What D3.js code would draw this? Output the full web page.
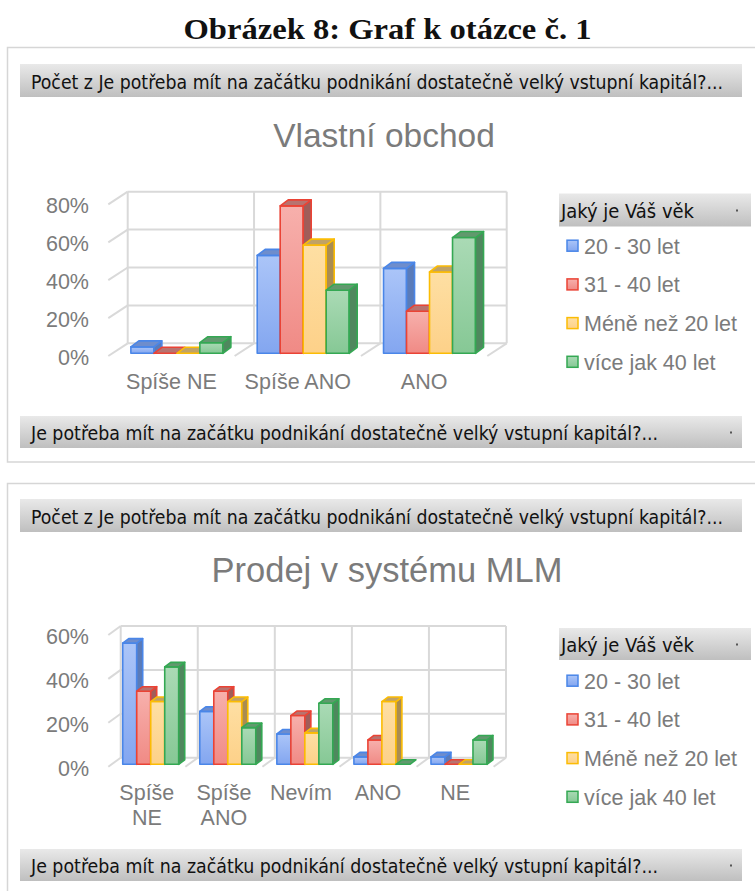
<!DOCTYPE html>
<html><head><meta charset="utf-8">
<script src="https://cdn.jsdelivr.net/npm/d3@7"></script>
<style>html,body{margin:0;padding:0;background:#fff;} svg{display:block;}</style>
</head><body><svg id="c" width="755" height="891"></svg>
<script>
// ---------- DATA ----------
const pageTitle = "Obrázek 8: Graf k otázce č. 1";
const filterText = "Počet z Je potřeba mít na začátku podnikání dostatečně velký vstupní kapitál?...";
const axisFilterText = "Je potřeba mít na začátku podnikání dostatečně velký vstupní kapitál?...";
const legendTitle = "Jaký je Váš věk";
const seriesNames = ["20 - 30 let", "31 - 40 let", "Méně než 20 let", "více jak 40 let"];

const title1 = "Vlastní obchod";
const categories1 = ["Spíše NE", "Spíše ANO", "ANO"];
const vo_20_30 = [0.034, 0.517, 0.448];
const vo_31_40 = [0.000, 0.778, 0.222];
const vo_mene20 = [0.000, 0.571, 0.429];
const vo_vice40 = [0.056, 0.333, 0.611];
const yTicks1 = [0, 0.2, 0.4, 0.6, 0.8];

const title2 = "Prodej v systému MLM";
const categories2 = ["Spíše NE", "Spíše ANO", "Nevím", "ANO", "NE"];
const mlm_20_30 = [0.552, 0.241, 0.138, 0.034, 0.034];
const mlm_31_40 = [0.333, 0.333, 0.222, 0.111, 0.000];
const mlm_mene20 = [0.286, 0.286, 0.143, 0.286, 0.000];
const mlm_vice40 = [0.444, 0.167, 0.278, 0.000, 0.111];
const yTicks2 = [0, 0.2, 0.4, 0.6];

// ---------- STYLE ----------
const palette = [
  {stroke:"#4a86e8", top:"#abc5f8", bot:"#83a6f0", lid:"#6e8dcc", side:"#5a7bb9"},
  {stroke:"#ea4335", top:"#f7b0ac", bot:"#f08a85", lid:"#b8736f", side:"#a05d59"},
  {stroke:"#fbbc04", top:"#fedfa3", bot:"#fdd189", lid:"#c0a266", side:"#a98c52"},
  {stroke:"#34a853", top:"#aadab5", bot:"#86c895", lid:"#61996e", side:"#4f885e"}
];
const gridColor = "#d9d9d9";
const textGray = "#7b7b7b";
const sansFont = "'Liberation Sans', Arial, sans-serif";
const pivotFont = "'DejaVu Sans Condensed', 'DejaVu Sans', sans-serif";

const svg = d3.select("#c");
const defs = svg.append("defs");
const hg = defs.append("linearGradient").attr("id","hdr").attr("x1",0).attr("y1",0).attr("x2",0).attr("y2",1);
hg.append("stop").attr("offset","0%").attr("stop-color","#e9e9e9");
hg.append("stop").attr("offset","100%").attr("stop-color","#bfbfbf");
palette.forEach((p,i) => {
  const lg = defs.append("linearGradient").attr("id","bar"+i).attr("x1",0).attr("y1",0).attr("x2",0).attr("y2",1);
  lg.append("stop").attr("offset","0%").attr("stop-color",p.top);
  lg.append("stop").attr("offset","100%").attr("stop-color",p.bot);
});

// page title
svg.append("text").attr("x",387.5).attr("y",38.5).attr("text-anchor","middle")
  .attr("font-family","'Liberation Serif', 'DejaVu Serif', serif").attr("font-weight","bold")
  .attr("font-size",30).attr("textLength",408).attr("lengthAdjust","spacingAndGlyphs")
  .attr("fill","#111").text(pageTitle);

// panels
svg.append("rect").attr("x",7.5).attr("y",47.5).attr("width",780).attr("height",414.5)
  .attr("fill","#fff").attr("stroke","#d6d6d6").attr("stroke-width",1.5);
svg.append("rect").attr("x",7.5).attr("y",483.5).attr("width",780).attr("height",440)
  .attr("fill","#fff").attr("stroke","#d6d6d6").attr("stroke-width",1.5);

function headerBar(x, y, w, h, text, textW, dotX) {
  svg.append("rect").attr("x",x).attr("y",y).attr("width",w).attr("height",h).attr("fill","url(#hdr)");
  svg.append("text").attr("x",x+(text===legendTitle?2:11)).attr("y",y+h/2+1).attr("dominant-baseline","central")
    .attr("font-family",pivotFont).attr("font-size",19).attr("fill","#111")
    .attr("textLength",textW).attr("lengthAdjust","spacingAndGlyphs").text(text);
  if (dotX) svg.append("rect").attr("x",dotX-1).attr("y",y+h/2-0.5).attr("width",2).attr("height",2).attr("fill","#555");
}
headerBar(20, 64, 722, 33, filterText, 692, null);
headerBar(20, 416, 722, 32, axisFilterText, 627, 731);
headerBar(20, 499, 722, 33, filterText, 692, null);
headerBar(20, 849, 722, 32, axisFilterText, 627, 731);
headerBar(559, 193.5, 192, 33, legendTitle, 133, 737);
headerBar(559, 628, 192, 32, legendTitle, 133, 737);

function legend(y0, step) {
  seriesNames.forEach((s,i) => {
    const cy = y0 + i*step;
    svg.append("rect").attr("x",567).attr("y",cy-5.5).attr("width",11).attr("height",11)
      .attr("fill","url(#bar"+i+")").attr("stroke",palette[i].stroke).attr("stroke-width",1.5);
    svg.append("text").attr("x",584).attr("y",cy+1).attr("dominant-baseline","central")
      .attr("font-family",sansFont).attr("font-size",21.5).attr("fill",textGray).text(s);
  });
}
legend(245.7, 38.7);
legend(680.7, 38.7);

function drawChart(cfg, cats, data, ticks, title) {
  const g = svg.append("g");
  const y = d3.scaleLinear().domain([0, cfg.max]).range([cfg.yBase, cfg.yTop]);
  const x = d3.scaleBand().domain(cats).range([cfg.x0, cfg.x1]);
  const pad = (x.bandwidth() - cfg.barW*seriesNames.length)/2;
  const xs = d3.scaleBand().domain(seriesNames).range([pad, x.bandwidth()-pad]);
  const fmt = d3.format(".0%");

  g.append("text").attr("x",cfg.titleX).attr("y",cfg.titleY).attr("text-anchor","middle")
    .attr("font-family",sansFont).attr("font-size",cfg.titleSize).attr("fill",textGray).text(title);

  const grid = g.append("g").attr("stroke",gridColor).attr("stroke-width",2).attr("fill","none");
  ticks.forEach(t => {
    grid.append("line").attr("x1",cfg.x0).attr("x2",cfg.x1).attr("y1",y(t)).attr("y2",y(t));
    grid.append("line").attr("x1",cfg.x0).attr("y1",y(t)).attr("x2",cfg.x0+cfg.fdx).attr("y2",y(t)+cfg.fdy);
  });
  const bounds = cats.map(c => x(c)).concat([cfg.x1]);
  bounds.forEach((b,i) => {
    grid.append("line").attr("x1",b).attr("x2",b).attr("y1",y(0)).attr("y2",y(cfg.max));
    if (i>0) grid.append("line").attr("x1",b).attr("y1",y(0)).attr("x2",b+cfg.fdx).attr("y2",y(0)+cfg.fdy);
  });

  ticks.forEach(t => {
    g.append("text").attr("x",89).attr("y",y(t)+cfg.fdy+2).attr("text-anchor","end")
      .attr("dominant-baseline","central").attr("font-family",sansFont).attr("font-size",21.5)
      .attr("fill",textGray).text(fmt(t));
  });

  cats.forEach(c => {
    const lines = cfg.wrap ? c.split(" ") : [c];
    lines.forEach((ln,li) => {
      g.append("text").attr("x",x(c)+x.bandwidth()/2+cfg.fdx).attr("y",cfg.yBase+cfg.labelDy+li*25)
        .attr("text-anchor","middle").attr("dominant-baseline","central")
        .attr("font-family",sansFont).attr("font-size",21.5).attr("fill",textGray).text(ln);
    });
  });

  const bars = g.append("g").attr("stroke-width",1.6).attr("stroke-linejoin","round");
  cats.forEach((c,ci) => {
    seriesNames.forEach((s,si) => {
      const v = data[si][ci];
      const p = palette[si];
      const xl = x(c) + xs(s) + cfg.bfx, xr = xl + xs.bandwidth();
      const yb = y(0) + cfg.bfy, yt = y(v) + cfg.bfy;
      const dx = cfg.ddx, dy = cfg.ddy;
      if (yb - yt > 0.5) {
        bars.append("rect").attr("x",xl).attr("y",yt).attr("width",xr-xl).attr("height",yb-yt)
          .attr("fill","url(#bar"+si+")").attr("stroke",p.stroke);
        bars.append("path").attr("d",`M${xr},${yt}L${xr+dx},${yt+dy}L${xr+dx},${yb+dy}L${xr},${yb}Z`)
          .attr("fill",p.side).attr("stroke",p.stroke);
      }
      bars.append("path").attr("d",`M${xl},${yt}L${xr},${yt}L${xr+dx},${yt+dy}L${xl+dx},${yt+dy}Z`)
        .attr("fill",p.lid).attr("stroke",p.stroke);
    });
  });
}

drawChart({x0:127.7, x1:506.7, yBase:343.3, yTop:191.7, max:0.8, barW:23,
           bfx:-14, bfy:10, ddx:8, ddy:-6, fdx:-19.4, fdy:12.7, labelDy:38.4,
           titleX:384, titleY:147, titleSize:33.5, wrap:false},
          categories1, [vo_20_30, vo_31_40, vo_mene20, vo_vice40], yTicks1, title1);

drawChart({x0:120.7, x1:506, yBase:757.7, yTop:626, max:0.6, barW:14,
           bfx:-8.5, bfy:6.6, ddx:6, ddy:-4.5, fdx:-12.4, fdy:9, labelDy:35.3,
           titleX:387, titleY:582, titleSize:34.5, wrap:true},
          categories2, [mlm_20_30, mlm_31_40, mlm_mene20, mlm_vice40], yTicks2, title2);
</script></body></html>
